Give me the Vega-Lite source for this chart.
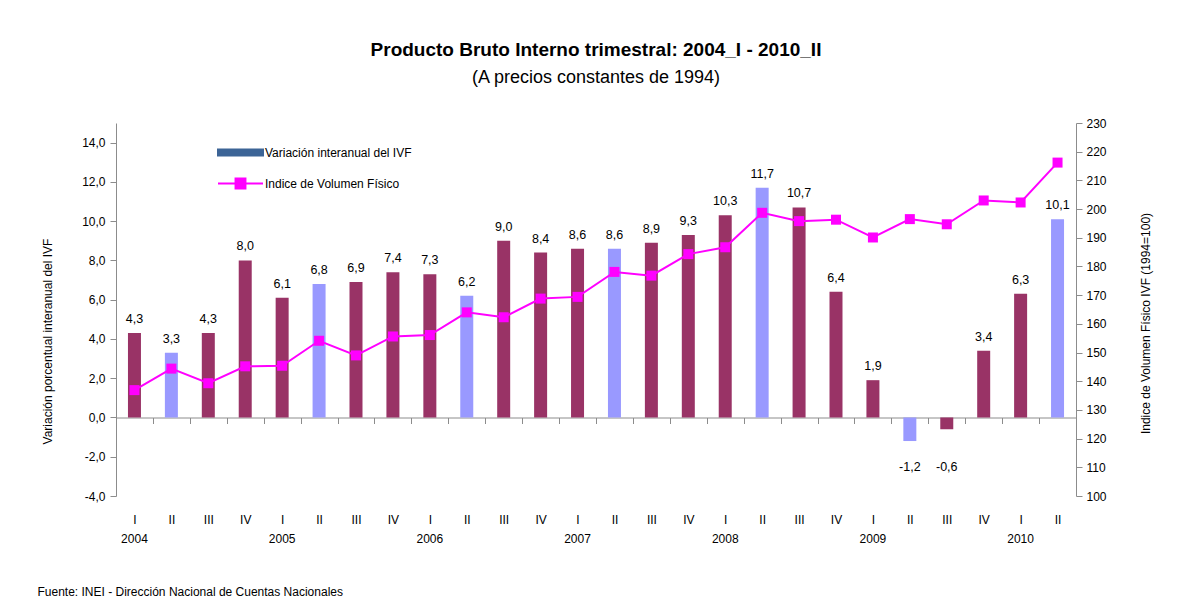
{
  "$schema": "https://vega.github.io/schema/vega-lite/v6.json",
  "width": 960,
  "height": 373,
  "autosize": {"type": "none"},
  "padding": {"left": 116, "right": 110, "top": 123, "bottom": 115},
  "background": "white",
  "title": {
    "text": "Producto Bruto Interno trimestral: 2004_I - 2010_II",
    "subtitle": "(A precios constantes de 1994)",
    "anchor": "middle",
    "font": "Liberation Sans",
    "fontSize": 19,
    "fontWeight": "bold",
    "color": "black",
    "subtitleFont": "Liberation Sans",
    "subtitleFontSize": 18,
    "subtitleColor": "black",
    "subtitlePadding": 9,
    "offset": 30
  },
  "config": {
    "view": {"stroke": null},
    "font": "Liberation Sans",
    "locale": {
      "number": {"decimal": ",", "thousands": ".", "grouping": [3], "currency": ["", " €"], "minus": "-"}
    },
    "axis": {
      "labelFont": "Liberation Sans",
      "titleFont": "Liberation Sans",
      "labelColor": "black",
      "titleColor": "black",
      "labelFontSize": 12,
      "titleFontSize": 12,
      "titleFontWeight": "normal",
      "domainColor": "#8c8c8c",
      "tickColor": "#8c8c8c",
      "grid": false
    }
  },
  "data": {
    "values": [
      {"key": "2004-I", "year": "2004", "q": "I", "pct": 4.3, "ivf": 136.9},
      {"key": "2004-II", "year": "2004", "q": "II", "pct": 3.3, "ivf": 144.4},
      {"key": "2004-III", "year": "2004", "q": "III", "pct": 4.3, "ivf": 139.3},
      {"key": "2004-IV", "year": "2004", "q": "IV", "pct": 8.0, "ivf": 145.2},
      {"key": "2005-I", "year": "2005", "q": "I", "pct": 6.1, "ivf": 145.4},
      {"key": "2005-II", "year": "2005", "q": "II", "pct": 6.8, "ivf": 154.1},
      {"key": "2005-III", "year": "2005", "q": "III", "pct": 6.9, "ivf": 149.0},
      {"key": "2005-IV", "year": "2005", "q": "IV", "pct": 7.4, "ivf": 155.6},
      {"key": "2006-I", "year": "2006", "q": "I", "pct": 7.3, "ivf": 156.1},
      {"key": "2006-II", "year": "2006", "q": "II", "pct": 6.2, "ivf": 164.0},
      {"key": "2006-III", "year": "2006", "q": "III", "pct": 9.0, "ivf": 162.3},
      {"key": "2006-IV", "year": "2006", "q": "IV", "pct": 8.4, "ivf": 168.8},
      {"key": "2007-I", "year": "2007", "q": "I", "pct": 8.6, "ivf": 169.4},
      {"key": "2007-II", "year": "2007", "q": "II", "pct": 8.6, "ivf": 178.1},
      {"key": "2007-III", "year": "2007", "q": "III", "pct": 8.9, "ivf": 176.8},
      {"key": "2007-IV", "year": "2007", "q": "IV", "pct": 9.3, "ivf": 184.3},
      {"key": "2008-I", "year": "2008", "q": "I", "pct": 10.3, "ivf": 186.7},
      {"key": "2008-II", "year": "2008", "q": "II", "pct": 11.7, "ivf": 198.7},
      {"key": "2008-III", "year": "2008", "q": "III", "pct": 10.7, "ivf": 195.8},
      {"key": "2008-IV", "year": "2008", "q": "IV", "pct": 6.4, "ivf": 196.3},
      {"key": "2009-I", "year": "2009", "q": "I", "pct": 1.9, "ivf": 190.1},
      {"key": "2009-II", "year": "2009", "q": "II", "pct": -1.2, "ivf": 196.5},
      {"key": "2009-III", "year": "2009", "q": "III", "pct": -0.6, "ivf": 194.7},
      {"key": "2009-IV", "year": "2009", "q": "IV", "pct": 3.4, "ivf": 203.0},
      {"key": "2010-I", "year": "2010", "q": "I", "pct": 6.3, "ivf": 202.3},
      {"key": "2010-II", "year": "2010", "q": "II", "pct": 10.1, "ivf": 216.2}
    ]
  },
  "encoding": {
    "x": {
      "field": "key",
      "type": "nominal",
      "sort": null,
      "scale": {"paddingInner": 0.648, "paddingOuter": 0.324},
      "axis": {
        "orient": "bottom",
        "offset": -78.5,
        "tickSize": 6,
        "tickOffset": 18.46,
        "labelOffset": -18.46,
        "labelAngle": 0,
        "labelPadding": 91,
        "labelExpr": "slice(datum.value, 5)",
        "title": "Fuente: INEI - Dirección  Nacional de Cuentas  Nacionales",
        "titleFontSize": 12,
        "titleAlign": "left",
        "titleX": -79,
        "titleY": 169
      }
    }
  },
  "layer": [
    {
      "mark": {"type": "bar"},
      "encoding": {
        "y": {
          "field": "pct",
          "type": "quantitative",
          "scale": {"domain": [-4, 15], "nice": false, "zero": false},
          "axis": {
            "orient": "left",
            "values": [-4, -2, 0, 2, 4, 6, 8, 10, 12, 14],
            "labelExpr": "replace(format(datum.value, '.1f'), '.', ',')",
            "tickSize": 6,
            "labelPadding": 5,
            "title": "Variación porcentual interanual del IVF",
            "titleAngle": -90,
            "titleBaseline": "middle",
            "titleAlign": "center",
            "titleX": -69,
            "titleY": 218
          }
        },
        "color": {
          "condition": {"test": "datum.q === 'II'", "value": "#9999FF"},
          "value": "#993366"
        }
      }
    },
    {
      "mark": {"type": "text", "baseline": "alphabetic", "dy": -10, "fontSize": 12.5, "color": "black"},
      "encoding": {
        "y": {"field": "pct", "type": "quantitative", "scale": {"domain": [-4, 15], "nice": false, "zero": false}, "axis": null},
        "text": {"field": "pct", "type": "quantitative", "format": ".1f"},
        "opacity": {"condition": {"test": "datum.pct >= 0", "value": 1}, "value": 0}
      }
    },
    {
      "mark": {"type": "text", "baseline": "middle", "fontSize": 12.5, "color": "black"},
      "encoding": {
        "y": {"datum": -2.5, "type": "quantitative", "scale": {"domain": [-4, 15], "nice": false, "zero": false}, "axis": null},
        "text": {"field": "pct", "type": "quantitative", "format": ".1f"},
        "opacity": {"condition": {"test": "datum.pct < 0", "value": 1}, "value": 0}
      }
    },
    {
      "mark": {"type": "text", "baseline": "middle", "fontSize": 12, "color": "black", "clip": false},
      "encoding": {
        "y": {"datum": -6.2, "type": "quantitative", "scale": {"domain": [-4, 15], "nice": false, "zero": false}, "axis": null},
        "text": {"field": "year", "type": "nominal"},
        "opacity": {"condition": {"test": "datum.q === 'I'", "value": 1}, "value": 0}
      }
    },
    {
      "mark": {"type": "line", "strokeWidth": 2},
      "encoding": {
        "y": {
          "field": "ivf",
          "type": "quantitative",
          "scale": {"domain": [100, 230], "nice": false, "zero": false},
          "axis": {
            "orient": "right",
            "values": [100, 110, 120, 130, 140, 150, 160, 170, 180, 190, 200, 210, 220, 230],
            "tickSize": 6,
            "labelPadding": 4,
            "title": "Indice de Volumen Físico IVF (1994=100)",
            "titleAngle": 270,
            "titleBaseline": "middle",
            "titleAlign": "center",
            "titleX": 69,
            "titleY": 200
          }
        },
        "color": {
          "datum": "Indice de Volumen Físico",
          "type": "nominal",
          "scale": {
            "domain": ["Variación interanual del IVF", "Indice de Volumen Físico"],
            "range": ["#3C6496", "#FF00FF"]
          },
          "legend": {
            "title": null,
            "orient": "none",
            "legendX": 101,
            "legendY": 6,
            "symbolSize": 2025,
            "symbolStrokeWidth": 2,
            "labelFontSize": 12,
            "labelColor": "black",
            "labelOffset": 1,
            "rowPadding": -9,
            "labelFont": "Liberation Sans",
            "encode": {
              "symbols": {
                "update": {
                  "shape": {"signal": "datum.value === 'Indice de Volumen Físico' ? 'M-1,0H1M-0.22,-0.22H0.22V0.22H-0.22Z' : 'M-1,-0.13H1V0.13H-1Z'"},
                  "fill": {"signal": "datum.value === 'Indice de Volumen Físico' ? '#FF00FF' : '#3C6496'"},
                  "stroke": {"signal": "datum.value === 'Indice de Volumen Físico' ? '#FF00FF' : '#3C6496'"}
                }
              }
            }
          }
        }
      }
    },
    {
      "mark": {"type": "point", "shape": "square", "filled": true, "size": 100, "opacity": 1},
      "encoding": {
        "y": {"field": "ivf", "type": "quantitative", "scale": {"domain": [100, 230], "nice": false, "zero": false}, "axis": null},
        "color": {"datum": "Indice de Volumen Físico", "type": "nominal"}
      }
    }
  ],
  "resolve": {"scale": {"y": "independent"}, "axis": {"y": "independent"}}
}
